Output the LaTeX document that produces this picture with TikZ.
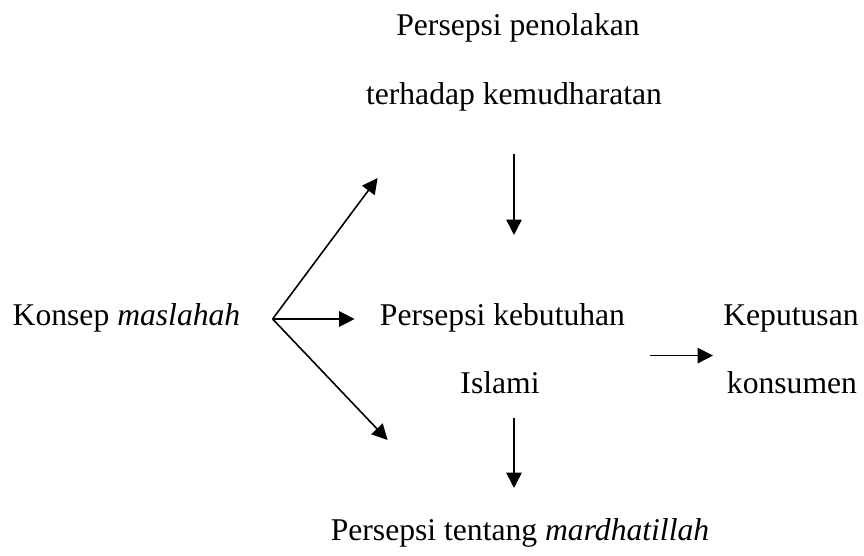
\documentclass[tikz,border=0pt]{standalone}
\usepackage{fontspec}
\setmainfont{Liberation Serif}
\usepackage{tikz}
\usetikzlibrary{arrows.meta, positioning, calc}
\tikzstyle{txt} = [inner sep=0pt, anchor=base, font=\fontsize{18}{22}\selectfont]
\tikzstyle{arrow} = [line width=0.9pt, -{Triangle[length=3.1mm, width=3.1mm]}]

\begin{document}
\begin{tikzpicture}
  \useasboundingbox (0,0) rectangle (17.28,11.1);
  % texts
  \node[txt] (tolak1) at (10.36,10.40) {Persepsi penolakan};
  \node[txt] (tolak2) at (10.28,9.02) {terhadap kemudharatan};
  \node[txt] (konsep) at (2.53,4.60) {Konsep \textit{maslahah}};
  \node[txt] (butuh1) at (10.05,4.60) {Persepsi kebutuhan};
  \node[txt] (butuh2) at (10.00,3.24) {Islami};
  \node[txt] (putus1) at (15.82,4.60) {Keputusan};
  \node[txt] (putus2) at (15.84,3.24) {konsumen};
  \node[txt] (ridha) at (10.40,0.30) {Persepsi tentang \textit{mardhatillah}};

  % arrow ends
  \coordinate (split) at ($(konsep.base east)+(0.64,0.12)$);
  \coordinate (tipup) at ($(split)+(2.10,2.82)$);
  \coordinate (tipdown) at ($(split)+(2.30,-2.42)$);
  \coordinate (mid) at ($(putus1.base)!0.45!(putus2.base)$);

  \draw[arrow] (split) -- (tipup);
  \draw[arrow] (split) -- ($(split -| butuh1.west)+(-0.5,0)$);
  \draw[arrow] (split) -- (tipdown);
  \draw[arrow] ($(tolak2.base)+(0,-1)$) -- ($(tolak2.base |- butuh1.base)+(0,1.8)$);
  \draw[arrow] ($(tolak2.base |- butuh2.base)+(0,-0.5)$) -- ($(tolak2.base |- ridha.base)+(0,1.04)$);
  \draw[arrow] ($(mid -| putus1.west)+(-1.46,0)$) -- ($(mid -| putus1.west)+(-0.2,0)$);
\end{tikzpicture}
\end{document}
